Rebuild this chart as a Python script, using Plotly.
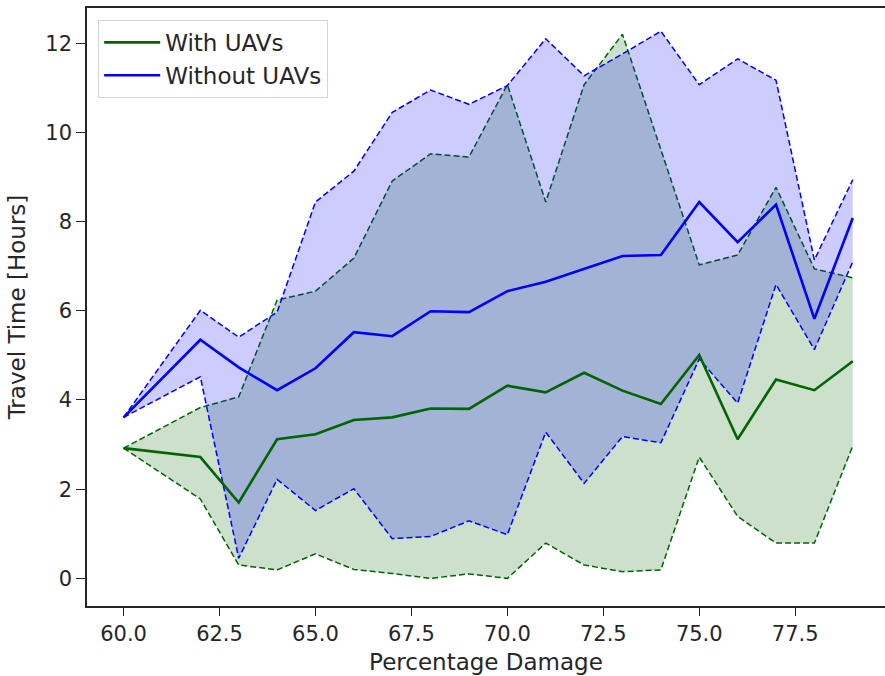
import plotly.graph_objects as go

# Percentage damage levels (x)
damage = [60, 62, 63, 64, 65, 66, 67, 68, 69, 70, 71, 72, 73, 74, 75, 76, 77, 78, 79]

# Travel time with UAVs: mean, lower and upper envelope
with_mean = [2.92, 2.72, 1.70, 3.12, 3.23, 3.55, 3.61, 3.81, 3.80, 4.32,
             4.17, 4.61, 4.21, 3.91, 5.01, 3.12, 4.46, 4.22, 4.87]
with_low = [2.92, 1.78, 0.30, 0.19, 0.55, 0.20, 0.11, 0.00, 0.10, 0.00,
            0.79, 0.30, 0.15, 0.19, 2.72, 1.39, 0.79, 0.79, 2.97]
with_high = [2.92, 3.83, 4.07, 6.24, 6.44, 7.18, 8.91, 9.52, 9.45, 11.07,
             8.44, 11.07, 12.20, 9.61, 7.03, 7.25, 8.77, 6.94, 6.74]

# Travel time without UAVs: mean, lower and upper envelope
without_mean = [3.61, 5.35, 4.73, 4.22, 4.71, 5.52, 5.43, 5.99, 5.97, 6.44,
                6.65, 6.94, 7.23, 7.25, 8.44, 7.54, 8.38, 5.82, 8.08]
without_low = [3.61, 4.52, 0.45, 2.22, 1.52, 2.01, 0.89, 0.94, 1.29, 0.98,
               3.28, 2.13, 3.18, 3.04, 4.92, 3.93, 6.59, 5.13, 7.10]
without_high = [3.61, 6.01, 5.41, 5.97, 8.44, 9.13, 10.45, 10.95, 10.63, 11.05,
                12.10, 11.27, 11.76, 12.27, 11.07, 11.65, 11.17, 7.14, 8.94]

x_ticks = [60.0, 62.5, 65.0, 67.5, 70.0, 72.5, 75.0, 77.5]
y_ticks = [0, 2, 4, 6, 8, 10, 12]

GREEN = "rgb(0,100,0)"
BLUE = "rgb(0,0,255)"
TEXT = "#262626"
DASH = "6px,3px"

fig = go.Figure()

# Shaded envelopes with dashed borders
fig.add_trace(go.Scatter(x=damage, y=with_low, mode="lines",
                         line=dict(color=GREEN, width=1.5, dash=DASH),
                         showlegend=False, hoverinfo="skip"))
fig.add_trace(go.Scatter(x=damage, y=with_high, mode="lines", fill="tonexty",
                         fillcolor="rgba(0,100,0,0.2)",
                         line=dict(color=GREEN, width=1.5, dash=DASH),
                         showlegend=False, hoverinfo="skip"))
fig.add_trace(go.Scatter(x=damage, y=without_low, mode="lines",
                         line=dict(color=BLUE, width=1.5, dash=DASH),
                         showlegend=False, hoverinfo="skip"))
fig.add_trace(go.Scatter(x=damage, y=without_high, mode="lines", fill="tonexty",
                         fillcolor="rgba(0,0,255,0.2)",
                         line=dict(color=BLUE, width=1.5, dash=DASH),
                         showlegend=False, hoverinfo="skip"))

# Mean travel times
fig.add_trace(go.Scatter(x=damage, y=with_mean, mode="lines", name="With UAVs",
                         line=dict(color=GREEN, width=2.6)))
fig.add_trace(go.Scatter(x=damage, y=without_mean, mode="lines", name="Without UAVs",
                         line=dict(color=BLUE, width=2.6)))

fig.update_layout(
    width=885, height=676,
    margin=dict(l=87, r=0, t=8, b=70),
    paper_bgcolor="white", plot_bgcolor="white",
    font=dict(family="DejaVu Sans", size=21, color=TEXT),
    legend=dict(x=0.014, y=0.98, xanchor="left", yanchor="top",
                traceorder="normal", itemwidth=56,
                bgcolor="rgba(255,255,255,0.8)", bordercolor="#d4d4d4",
                borderwidth=1, font=dict(size=23, color=TEXT),
                tracegroupgap=2),
    showlegend=True,
)

fig.update_xaxes(
    range=[59.047, 79.84],
    tickvals=x_ticks, ticktext=[f"{v:.1f}" for v in x_ticks],
    ticks="outside", ticklen=8, tickwidth=1.3, tickcolor=TEXT,
    showline=True, linecolor=TEXT, linewidth=1.5, mirror=True,
    showgrid=False, zeroline=False,
    title=dict(text="Percentage Damage", font=dict(size=23, color=TEXT), standoff=9),
)
fig.update_yaxes(
    range=[-0.62, 12.79],
    tickvals=y_ticks, ticktext=[str(v) for v in y_ticks],
    ticks="outside", ticklen=9, tickwidth=1.3, tickcolor=TEXT,
    showline=True, linecolor=TEXT, linewidth=1.5, mirror=False,
    showgrid=False, zeroline=False,
    title=dict(text="Travel Time [Hours]", font=dict(size=23, color=TEXT), standoff=13),
)

fig.write_html("out.html")
